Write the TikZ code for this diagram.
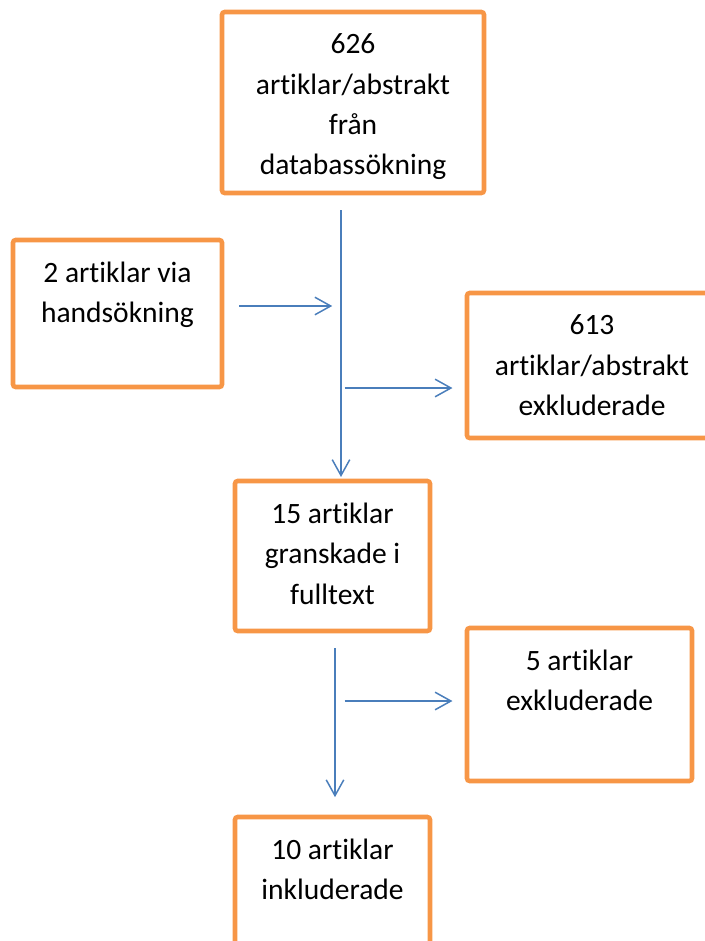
\documentclass[tikz,border=0pt]{standalone}
\usepackage{fontspec}
\setmainfont{Carlito}[Ligatures=NoCommon]
\usetikzlibrary{positioning, arrows.meta}
\definecolor{boxorange}{HTML}{F79646}
\definecolor{flowblue}{HTML}{4A7EBB}

\begin{document}
\begin{tikzpicture}[x=0.02cm, y=-0.02cm,
    box/.style={draw=boxorange, line width=2.6pt, rounded corners=1.5pt, inner sep=0pt},
    txt/.style={align=center, inner sep=0pt, font=\fontsize{16.8}{23}\selectfont},
    flow/.style={flowblue, line width=0.85pt, -{Straight Barb[length=9pt, width=10pt]}}]
    \useasboundingbox (0,0) rectangle (705,941);
    \clip (0,0) rectangle (705,941);

    % Boxes
    \foreach \n/\x/\y/\w/\h in {A/353/102.5/5.24/3.62, B/117.5/313.5/4.18/2.94,
        C/592/365.5/5/2.9, D/332.5/556/3.9/3, E/579.5/704.5/4.5/3.06, F/332.5/892/3.9/3} {
      \node[box, minimum width=\w cm, minimum height=\h cm] (\n) at (\x,\y) {};
    }

    % Texts
    \node[txt, below=13.5pt of A.north] (tA) {626\\artiklar/abstrakt\\från\\databassökning};
    \node[txt, below=13.5pt of B.north] (tB) {2 artiklar via\\handsökning};
    \node[txt, below=13.5pt of C.north] (tC) {613\\artiklar/abstrakt\\exkluderade};
    \node[txt, below=13.5pt of D.north] (tD) {15 artiklar\\granskade i\\fulltext};
    \node[txt, below=13.5pt of E.north] (tE) {5 artiklar\\exkluderade};
    \node[txt, below=13.5pt of F.north] (tF) {10 artiklar\\inkluderade};

    % Flow
    \coordinate (s1) at (341,210);
    \coordinate (j1) at (341,306);
    \coordinate (j2) at (341,388);
    \coordinate (s2) at (335,648);
    \coordinate (j3) at (335,701);
    \draw[flow, shorten >=1pt] (s1) -- (s1 |- D.north);
    \draw[flow, shorten <=8.5pt, shorten >=5pt] (B.east |- j1) -- (j1);
    \draw[flow, shorten <=2pt, shorten >=7pt] (j2) -- (C.west |- j2);
    \draw[flow, shorten >=10pt] (s2) -- (s2 |- F.north);
    \draw[flow, shorten <=5.5pt, shorten >=7pt] (j3) -- (E.west |- j3);
\end{tikzpicture}
\end{document}
